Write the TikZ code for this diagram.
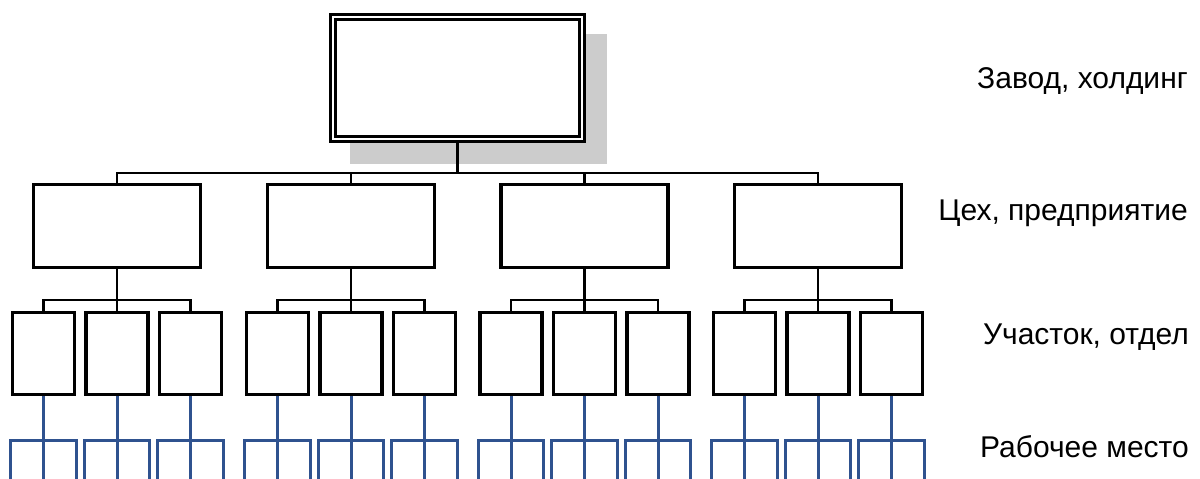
\documentclass[tikz,border=0pt]{standalone}
\usepackage{fontspec}
\setmainfont{Liberation Sans}
\definecolor{wpblue}{RGB}{47,82,143}
\definecolor{shadowgray}{RGB}{204,204,204}
\begin{document}
\begin{tikzpicture}[x=1pt,y=-1pt,
  topbox/.style={draw, line width=2.8pt, fill=white, minimum width=249.4pt, minimum height=122.4pt, inner sep=0pt, double=white, double distance=2pt},
  shopbox/.style={draw, line width=3.1pt, fill=white, minimum width=167pt, minimum height=83pt, inner sep=0pt},
  secbox/.style={draw, line width=3.1pt, fill=white, minimum width=62pt, minimum height=82pt, inner sep=0pt},
  conn/.style={line width=2.8pt},
  wpline/.style={line width=3pt, draw=wpblue},
  lbl/.style={font=\fontsize{30}{34}\selectfont, anchor=base east, inner sep=0pt}]
\useasboundingbox (0,0) rectangle (1200,479);
% shadow
\fill[shadowgray] (350,34) rectangle (607,164);
% top box
\node[topbox] (top) at (457.5,78) {};
\node[lbl] (l1) at (1188,88) {Завод, холдинг};
\node[lbl] (l2) at (1188,220) {Цех, предприятие};
\node[lbl] (l3) at (1189,344) {Участок, отдел};
\node[lbl] (l4) at (1189,457) {Рабочее место};
% level 2 and 3 boxes
\foreach \i/\cx in {1/117,2/351,3/584.5,4/818}{
  \node[shopbox] (s\i) at (\cx,226) {};
  \foreach \j/\dx in {1/-73.5,2/0,3/73.5}{
    \node[secbox] (s\i\j) at (\cx+\dx,353.5) {};
  }
}
% top to level-2 bus
\coordinate (b0) at (457.5,173);
\draw[conn] (top.south) -- (b0);
\draw[conn] (s1.north) |- (b0) -| (s4.north);
\draw[conn] (s2.north) -- (s2.north |- b0);
\draw[conn] (s3.north) -- (s3.north |- b0);
% level-2 to level-3
\foreach \i in {1,2,3,4}{
  \coordinate (m\i) at (s\i.south |- 0,300);
  \draw[conn] (s\i.south) -- (m\i);
  \draw[conn] (s\i1.north) |- (m\i) -| (s\i3.north);
  \draw[conn] (s\i2.north) -- (m\i);
  % workplaces
  \foreach \j in {1,2,3}{
    \coordinate (wb\i\j) at (s\i\j.south |- 0,479);
    \coordinate (wl\i\j) at (s\i\j.south west |- 0,479);
    \coordinate (wr\i\j) at (s\i\j.south east |- 0,479);
    \coordinate (hl\i\j) at (s\i\j.south west |- 0,440);
    \coordinate (hr\i\j) at (s\i\j.south east |- 0,440);
    \draw[wpline] (s\i\j.south) -- (wb\i\j);
    \draw[wpline] (wl\i\j) -- (hl\i\j) -- (hr\i\j) -- (wr\i\j);
  }
}
\end{tikzpicture}
\end{document}
